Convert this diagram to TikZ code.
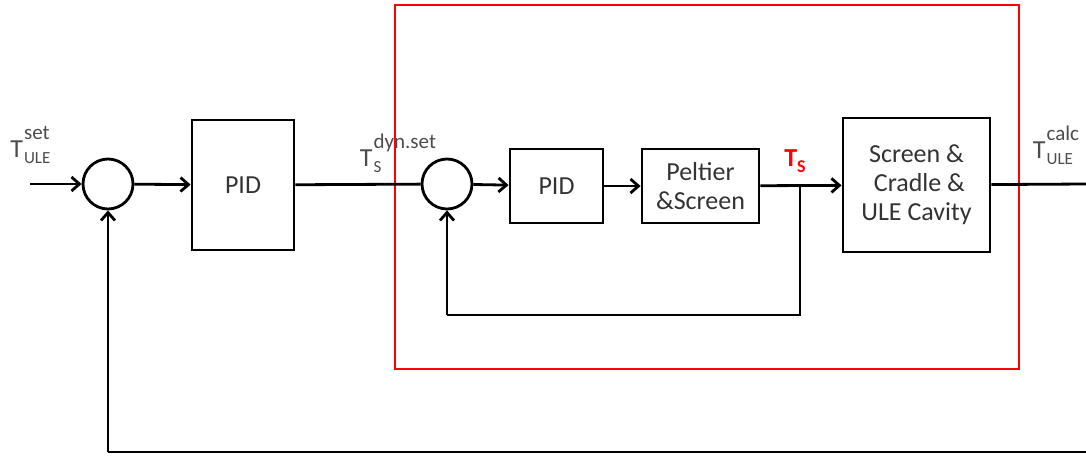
\documentclass[tikz,border=0pt]{standalone}
\usepackage{amsmath}
\usepackage{fontspec}
\setmainfont{Carlito}
\usepackage{tikz}
\usetikzlibrary{positioning,calc,arrows.meta}
\usepackage{xcolor}

% T with stacked sub- and superscript
\newcommand{\tsym}[3]{#1\kern0.5pt\rlap{\raisebox{-0.5ex}{\fontsize{8.5}{9}\selectfont #2}}\raisebox{1.45ex}{\fontsize{10.5}{11}\selectfont #3}}

\begin{document}
\begin{tikzpicture}[x=0.5pt,y=-0.5pt,line width=1.4pt,
  block/.style={draw,minimum width=#1,align=center,font=\fontsize{13}{14.5}\selectfont,text=black!80,inner sep=0pt},
  sumnode/.style={draw,circle,minimum size=25pt,inner sep=0pt},
  arr/.style={-{Straight Barb[length=4pt,width=7pt]}},
  lab/.style={font=\fontsize{13}{15}\selectfont,text=black!70}]
\useasboundingbox (0,0) rectangle (1086,455);
% inner loop frame
\draw[red,line width=1.2pt] (395,5) rectangle (1019,369);
% blocks
\node (sum1) at (108,184) [sumnode] {};
\node (pid1) at (243,185) [block=51pt,minimum height=65pt] {PID};
\node (sum2) at (447,184) [sumnode] {};
\node (pid2) at (556.5,186) [block=46.5pt,minimum height=37pt] {PID};
\node (pelt) at (700.5,186) [block=58.5pt,minimum height=37pt] {Peltier\\\&Screen};
\node (cav) at (916.5,185) [block=73.5pt,minimum height=67pt] {Screen \&\\\ Cradle \&\\ULE Cavity};
% signals
\coordinate (in) at (30,184);
\coordinate (out) at (1086,184);
\coordinate (fbr) at (1086,452);
\coordinate (fbl) at (108,452);
\coordinate (ts) at (800,184);
\coordinate (fb2r) at (800,315);
\coordinate (fb2l) at (447,315);
\node (lset) at (30,145) [lab] {\tsym{T}{ULE}{set}};
\node (ldyn) at (398,153) [lab] {\tsym{T}{S}{dyn.set}};
\node (lcalc) at (1056,145) [lab] {\tsym{T}{ULE}{calc}};
\node (lts) at (795,161) [font=\fontsize{13}{15}\selectfont\bfseries,red] {T\raisebox{-0.5ex}{\fontsize{9}{9}\selectfont S}};
\draw[arr] (in) -- (sum1);
\draw[arr] (sum1) -- (pid1);
\draw (pid1) -- (sum2);
\draw[arr] (sum2) -- (pid2);
\draw[arr] (pid2) -- (pelt);
\draw[arr] (pelt) -- (cav);
\draw (cav) -- (out);
\draw (ts) -- (fb2r) -- (fb2l);
\draw[arr] (fb2l) -- (sum2);
\draw (fbr) -- (fbl);
\draw[arr] (fbl) -- (sum1);
\end{tikzpicture}
\end{document}
